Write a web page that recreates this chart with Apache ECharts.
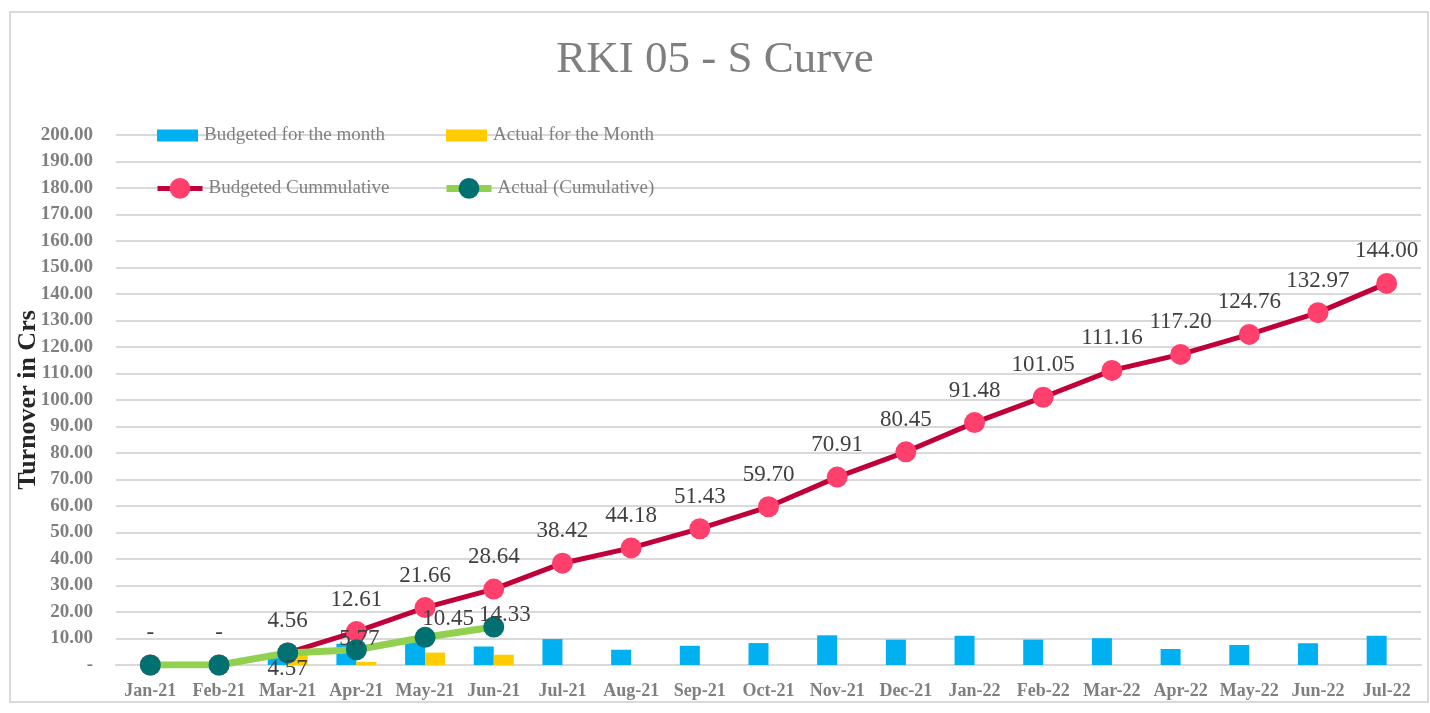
<!DOCTYPE html>
<html>
<head>
<meta charset="utf-8">
<script src="https://cdn.jsdelivr.net/npm/echarts@6/dist/echarts.min.js"></script>
<style>html,body{margin:0;padding:0;background:#fff;}#c{width:1430px;height:713px;}</style>
</head>
<body>
<div id="c"></div>
<script>
const categories = ['Jan-21','Feb-21','Mar-21','Apr-21','May-21','Jun-21','Jul-21','Aug-21','Sep-21','Oct-21','Nov-21','Dec-21','Jan-22','Feb-22','Mar-22','Apr-22','May-22','Jun-22','Jul-22'];
const budgetMonth = [0, 0, 4.56, 8.05, 9.05, 6.98, 9.78, 5.76, 7.25, 8.27, 11.21, 9.54, 11.03, 9.57, 10.11, 6.04, 7.56, 8.21, 11.03];
const actualMonth = [0, 0, 4.57, 1.20, 4.68, 3.88];
const budgetCum = [0, 0, 4.56, 12.61, 21.66, 28.64, 38.42, 44.18, 51.43, 59.70, 70.91, 80.45, 91.48, 101.05, 111.16, 117.20, 124.76, 132.97, 144.00];
const actualCum = [0, 0, 4.57, 5.77, 10.45, 14.33];
const yMin = 0, yMax = 200, yStep = 10;

const FONT = '"Liberation Serif", "DejaVu Serif", serif';
const fmt = v => (v === 0 ? '-' : v.toFixed(2));

// label placement for the actual cumulative series (as placed in the source chart)
const actualLabelOffsets = [null, null, [0, 16], [3, -11], [23, -18], [11, -12]];

const actualCumData = actualCum.map((v, i) => {
  const off = actualLabelOffsets[i];
  return {
    value: v,
    label: off ? { show: true, position: 'inside', offset: off } : { show: false }
  };
});

const chart = echarts.init(document.getElementById('c'), null, { renderer: 'canvas' });

const legendText = { fontFamily: FONT, fontSize: 19, color: '#808080', padding: [0, 0, 0, 1] };

chart.setOption({
  animation: false,
  backgroundColor: '#ffffff',
  title: {
    text: 'RKI 05 - S Curve',
    left: 'center',
    top: 33,
    textStyle: { fontFamily: FONT, fontSize: 45, fontWeight: 'normal', color: '#7f7f7f' }
  },
  graphic: [{
    type: 'rect',
    shape: { x: 10, y: 12, width: 1418, height: 690 },
    style: { fill: 'none', stroke: '#d9d9d9', lineWidth: 2 },
    silent: true, z: -1
  }],
  legend: [
    { data: [{ name: 'Budgeted for the month', icon: 'rect' }], left: 152, top: 121, itemWidth: 41, itemHeight: 12, selectedMode: false, textStyle: legendText },
    { data: [{ name: 'Actual for the Month', icon: 'rect' }], left: 441, top: 121, itemWidth: 41, itemHeight: 12, selectedMode: false, textStyle: legendText },
    { data: ['Budgeted Cummulative'], left: 150, top: 173, itemWidth: 45, itemHeight: 26, selectedMode: false, textStyle: legendText,
      lineStyle: { width: 5 } },
    { data: ['Actual (Cumulative)'], left: 438, top: 173, itemWidth: 45, itemHeight: 26, selectedMode: false, textStyle: legendText,
      lineStyle: { width: 7 } }
  ],
  grid: { left: 116, right: 9, top: 135, bottom: 48, containLabel: false },
  xAxis: {
    type: 'category',
    data: categories,
    axisTick: { show: false },
    axisLine: { show: true, lineStyle: { color: '#d9d9d9', width: 2 } },
    axisLabel: { fontFamily: FONT, fontSize: 18, fontWeight: 'bold', color: '#7f7f7f', margin: 17, interval: 0 }
  },
  yAxis: {
    type: 'value',
    min: yMin, max: yMax, interval: yStep,
    name: 'Turnover in Crs',
    nameLocation: 'middle',
    nameGap: 75,
    nameMoveOverlap: false,
    nameTextStyle: { fontFamily: FONT, fontSize: 26, fontWeight: 'bold', color: '#262626' },
    axisLine: { show: false },
    axisTick: { show: false },
    splitLine: { lineStyle: { color: '#d9d9d9', width: 2 } },
    axisLabel: { fontFamily: FONT, fontSize: 19, fontWeight: 'bold', color: '#7f7f7f', margin: 23, formatter: fmt }
  },
  series: [
    {
      name: 'Budgeted for the month',
      type: 'bar',
      data: budgetMonth,
      barWidth: 20,
      barGap: '0%',
      itemStyle: { color: '#00B0F0' },
      z: 1
    },
    {
      name: 'Actual for the Month',
      type: 'bar',
      data: actualMonth,
      barWidth: 20,
      barGap: '0%',
      itemStyle: { color: '#FFCC00' },
      z: 1
    },
    {
      name: 'Budgeted Cummulative',
      type: 'line',
      data: budgetCum,
      symbol: 'circle',
      symbolSize: 21,
      lineStyle: { color: '#C00039', width: 5 },
      itemStyle: { color: '#FF3F6C' },
      label: {
        show: true, position: 'inside', offset: [0, -32],
        fontFamily: FONT, fontSize: 23, color: '#404040', formatter: p => fmt(p.value)
      },
      z: 3
    },
    {
      name: 'Actual (Cumulative)',
      type: 'line',
      data: actualCumData,
      symbol: 'circle',
      symbolSize: 21,
      lineStyle: { color: '#92D050', width: 7 },
      itemStyle: { color: '#007070' },
      label: {
        fontFamily: FONT, fontSize: 23, color: '#404040', formatter: p => fmt(p.value)
      },
      z: 4
    }
  ]
});
</script>
</body>
</html>
